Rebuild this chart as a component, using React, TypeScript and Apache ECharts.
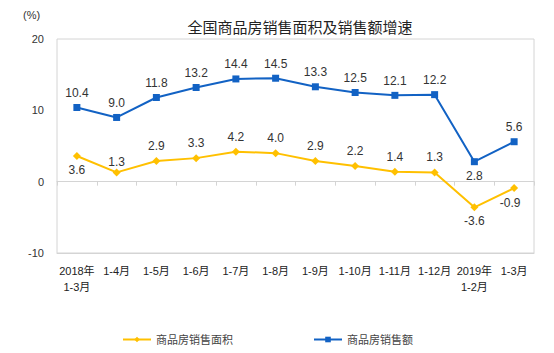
import React, { useEffect, useRef } from "react";
import * as echarts from "echarts";

const categories = [
  "2018年\n1-3月", "1-4月", "1-5月", "1-6月", "1-7月", "1-8月",
  "1-9月", "1-10月", "1-11月", "1-12月", "2019年\n1-2月", "1-3月",
];
const salesAmount = [10.4, 9.0, 11.8, 13.2, 14.4, 14.5, 13.3, 12.5, 12.1, 12.2, 2.8, 5.6];
const salesArea = [3.6, 1.3, 2.9, 3.3, 4.2, 4.0, 2.9, 2.2, 1.4, 1.3, -3.6, -0.9];
const amountLabelPos = ["top", "top", "top", "top", "top", "top", "top", "top", "top", "top", "bottom", "top"];
const areaLabelPos = ["bottom", "top", "top", "top", "top", "top", "top", "top", "top", "top", "bottom", "bottom"];
const areaLabelDist = [4, 0, 5, 5, 5, 5, 5, 5, 5, 5, 4, 5];
const areaLabelShiftX = [0, 0, 0, 0, 0, 0, 0, 0, 0, 0, 0, -4];
const yTicks = { min: -10, max: 20, interval: 10 };

const FONT = "'Liberation Sans', Arial, 'Noto Sans CJK SC', sans-serif";
const BLUE = "#1262C4";
const YELLOW = "#FFC000";

export default function App() {
  const ref = useRef<HTMLDivElement>(null);
  useEffect(() => {
    const chart = echarts.init(ref.current!, null, { renderer: "svg" });
    const fmt = (p: any) => Number(p.value).toFixed(1);
    chart.setOption({
      animation: false,
      backgroundColor: "#fff",
      textStyle: { fontFamily: FONT },
      title: {
        text: "全国商品房销售面积及销售额增速",
        left: 295,
        textAlign: "center",
        top: 15,
        textStyle: { fontSize: 15, fontWeight: "normal", color: "#222", fontFamily: FONT },
      },
      graphic: [
        {
          type: "text",
          left: 23,
          top: 9,
          style: { text: "(%)", fontSize: 11, fill: "#333", fontFamily: FONT },
        },
      ],
      legend: {
        left: 117,
        top: 329,
        itemGap: 80,
        itemWidth: 28,
        itemHeight: 7,
        textStyle: { fontSize: 11, color: "#444", fontFamily: FONT },
        data: ["商品房销售面积", "商品房销售额"],
      },
      grid: {
        left: 57,
        right: 20,
        top: 39,
        bottom: 100,
        show: true,
        borderColor: "#d4d4d4",
        borderWidth: 1,
        outerBoundsMode: "none",
        containLabel: false,
      },
      xAxis: [
        {
          type: "category",
          data: categories,
          boundaryGap: true,
          position: "bottom",
          axisLine: { show: true, onZero: false, lineStyle: { color: "#d4d4d4", width: 1 } },
          axisTick: { show: false },
          axisLabel: {
            interval: 0,
            margin: 10,
            fontSize: 11,
            lineHeight: 16,
            color: "#222",
            fontFamily: FONT,
          },
        },
        {
          type: "category",
          data: categories,
          boundaryGap: true,
          position: "bottom",
          axisLine: { show: true, onZero: true, onZeroAxisIndex: 0, lineStyle: { color: "#d4d4d4", width: 1 } },
          axisTick: { show: true, interval: 0, length: 4, lineStyle: { color: "#d4d4d4" } },
          axisLabel: { show: false },
        },
      ],
      yAxis: {
        type: "value",
        min: yTicks.min,
        max: yTicks.max,
        interval: yTicks.interval,
        axisLine: { show: false },
        axisTick: { show: false },
        splitLine: { show: false },
        axisLabel: { fontSize: 11, color: "#333", margin: 13, fontFamily: FONT },
      },
      series: [
        {
          name: "商品房销售面积",
          type: "line",
          data: salesArea.map((v, i) => ({
            value: v,
            label: {
              position: areaLabelPos[i],
              distance: areaLabelDist[i],
              offset: [areaLabelShiftX[i], 0],
            },
          })),
          color: YELLOW,
          lineStyle: { width: 2, color: YELLOW },
          symbol: "diamond",
          symbolSize: 8,
          itemStyle: { color: YELLOW },
          label: {
            show: true,
            formatter: fmt,
            fontSize: 12,
            color: "#333",
            fontFamily: FONT,
          },
          z: 2,
        },
        {
          name: "商品房销售额",
          type: "line",
          data: salesAmount.map((v, i) => ({
            value: v,
            label: { position: amountLabelPos[i] },
          })),
          color: BLUE,
          lineStyle: { width: 2, color: BLUE },
          symbol: "rect",
          symbolSize: 7,
          itemStyle: { color: BLUE },
          label: {
            show: true,
            formatter: fmt,
            fontSize: 12,
            color: "#333",
            fontFamily: FONT,
            distance: 5,
          },
          z: 3,
        },
      ],
    });
    return () => chart.dispose();
  }, []);
  return <div ref={ref} style={{ width: 554, height: 353, margin: -8 }} />;
}
